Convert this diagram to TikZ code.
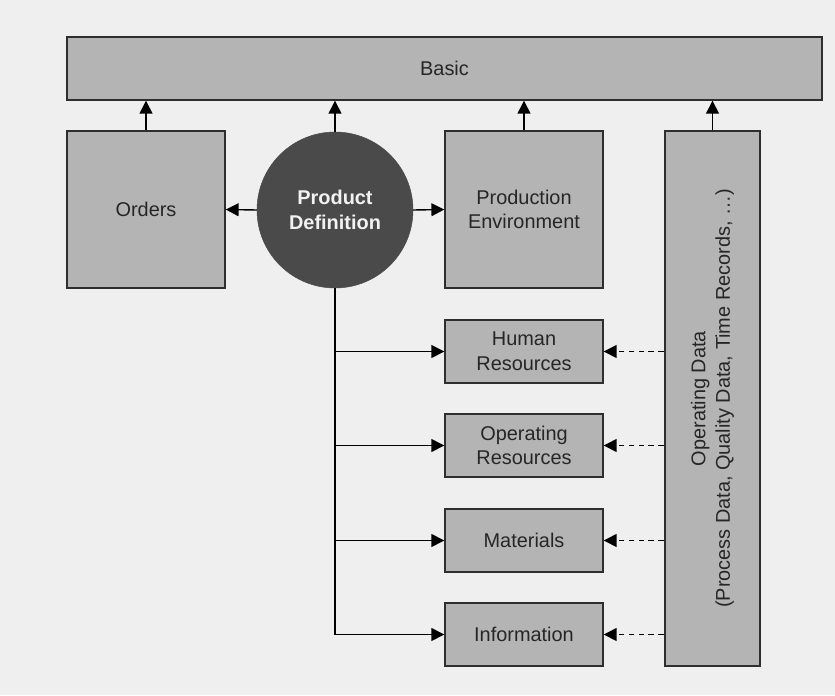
\documentclass[tikz,border=0pt]{standalone}
\usepackage{fontspec}
\setmainfont{Liberation Sans}
\usetikzlibrary{arrows.meta}

\definecolor{bggray}{HTML}{EFEFEF}
\definecolor{boxgray}{HTML}{B4B4B4}
\definecolor{darkcirc}{HTML}{4A4A4A}
\definecolor{edgegray}{HTML}{2E2E2E}

\tikzset{
  box/.style={draw=edgegray, fill=boxgray, line width=1.2pt, align=center,
    inner sep=0pt, font=\fontsize{17}{21}\selectfont, text=black!85},
  bigbox/.style={box, minimum width=4.74cm, minimum height=4.71cm},
  smallbox/.style={box, minimum width=4.74cm, minimum height=1.89cm},
  link/.style={draw=black, line width=1.2pt, -{Triangle[length=11pt,width=11pt]}},
  feed/.style={link, dash pattern=on 5pt off 3.5pt}
}

\begin{document}
\begin{tikzpicture}[x=0.03cm, y=-0.03cm]
\fill[bggray] (0,0) rectangle (835,695);
\useasboundingbox (0,0) rectangle (835,695);

\node[box, minimum width=22.65cm, minimum height=1.89cm] (basic) at (444.5,68.5) {Basic};
\node[bigbox] (orders) at (146,209.5) {Orders};
\node[bigbox] (env) at (524,209.5) {Production\\Environment};
\node[circle, fill=darkcirc, draw=darkcirc, minimum size=4.68cm, inner sep=0pt,
  align=center, text=white!95!black, font=\fontsize{17}{21}\selectfont\bfseries] (pd) at (335,210) {Product\\Definition};

\node[smallbox] (hr) at (524,351.5) {Human\\Resources};
\node[smallbox] (opres) at (524,445.5) {Operating\\Resources};
\node[smallbox] (mat) at (524,540.5) {Materials};
\node[smallbox] (info) at (524,634.5) {Information};

\node[box, minimum width=2.85cm, minimum height=16.05cm] (opdata) at (712.5,398.5) {};
\node[rotate=90, align=center, font=\fontsize{17}{21}\selectfont, text=black!85] (odlabel) at (opdata.center) {Operating Data\\(Process Data, Quality Data, Time Records, \dots)};

% upward links to basic
\draw[link] (orders.north) -- (orders.north |- basic.south);
\draw[link] (pd.north) -- (pd.north |- basic.south);
\draw[link] (env.north) -- (env.north |- basic.south);
\draw[link] (opdata.north) -- (opdata.north |- basic.south);

% product definition to the sides
\draw[link] (pd.west) -- (orders.east);
\draw[link] (pd.east) -- (env.west);

% product definition to the resources
\draw[link] (pd.south) |- (hr.west);
\draw[link] (pd.south) |- (opres.west);
\draw[link] (pd.south) |- (mat.west);
\draw[link] (pd.south) |- (info.west);

% operating data feedback
\draw[feed] (opdata.west |- hr.east) -- (hr.east);
\draw[feed] (opdata.west |- opres.east) -- (opres.east);
\draw[feed] (opdata.west |- mat.east) -- (mat.east);
\draw[feed] (opdata.west |- info.east) -- (info.east);
\end{tikzpicture}
\end{document}
